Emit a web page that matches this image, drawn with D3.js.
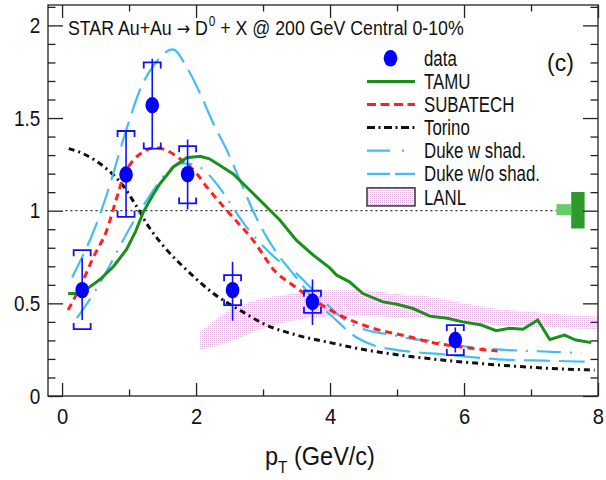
<!DOCTYPE html>
<html>
<head>
<meta charset="utf-8">
<script src="https://cdn.jsdelivr.net/npm/d3@7"></script>
<style>
  body { margin: 0; background: #fff; }
  svg { display: block; }
  text { font-family: "Liberation Sans", Arial, Helvetica, sans-serif; fill: #111; }
</style>
</head>
<body>
<svg id="chart" width="606" height="480"></svg>
<script>
// ---- STAR D0 R_AA, Au+Au 200 GeV, 0-10% ----
const dataPt  = [0.30, 0.955, 1.346, 1.874, 2.545, 3.738, 5.87];
const dataRaa = [0.571, 1.195, 1.569, 1.197, 0.571, 0.508, 0.302];
const statLo  = [0.41, 0.97, 1.34, 1.006, 0.406, 0.383, 0.235];
const statHi  = [0.744, 1.43, 1.82, 1.384, 0.724, 0.629, 0.37];
const sysLo   = [0.361, 0.967, 1.335, 1.039, 0.49, 0.449, 0.221];
const sysHi   = [0.787, 1.43, 1.80, 1.348, 0.652, 0.568, 0.383];

// ---- model curves ----
const tamuPt  = [0.09, 0.24, 0.4, 0.57, 0.77, 0.96, 1.1, 1.21, 1.34, 1.46, 1.66, 1.86, 2.06, 2.2, 2.55, 2.85, 3.0, 3.25, 3.5, 3.75, 4.0, 4.1, 4.29, 4.49, 4.79, 5.0, 5.24, 5.49, 5.75, 5.98, 6.26, 6.48, 6.68, 6.88, 7.1, 7.28, 7.5, 7.67, 7.9];
const tamuRaa = [0.553, 0.553, 0.585, 0.63, 0.70, 0.79, 0.89, 0.99, 1.075, 1.145, 1.236, 1.286, 1.294, 1.28, 1.20, 1.094, 1.04, 0.95, 0.84, 0.76, 0.69, 0.652, 0.616, 0.553, 0.508, 0.495, 0.472, 0.431, 0.42, 0.40, 0.383, 0.352, 0.365, 0.36, 0.41, 0.305, 0.329, 0.302, 0.288];

const subatechPt  = [0.09, 0.27, 0.47, 0.667, 0.8, 0.914, 1.063, 1.21, 1.387, 1.56, 1.76, 2.01, 2.16, 2.5, 2.85, 3.2, 3.4, 3.65, 3.95, 4.24, 4.6, 5.2, 5.5, 5.8, 6.1, 6.5];
const subatechRaa = [0.464, 0.589, 0.751, 0.895, 1.05, 1.182, 1.272, 1.317, 1.34, 1.326, 1.28, 1.2, 1.128, 0.985, 0.841, 0.665, 0.61, 0.545, 0.475, 0.42, 0.37, 0.318, 0.29, 0.272, 0.258, 0.243];

const torinoPt  = [0.1, 0.3, 0.5, 0.7, 0.9, 1.1, 1.3, 1.56, 1.86, 2.26, 2.65, 3.05, 3.5, 4.05, 4.54, 5.04, 5.79, 6.53, 7.28, 7.95];
const torinoRaa = [1.335, 1.31, 1.27, 1.215, 1.14, 1.03, 0.91, 0.79, 0.68, 0.553, 0.464, 0.383, 0.329, 0.284, 0.248, 0.221, 0.19, 0.167, 0.149, 0.14];

const dukeShadPt  = [0.22, 0.5, 0.75, 1.0, 1.2, 1.4, 1.6, 1.8, 2.0, 2.2, 2.4, 2.6, 2.8, 3.0, 3.2, 3.47, 3.74, 4.0, 4.24, 4.54, 4.94, 5.2, 5.5, 6.0, 6.3, 6.65, 7.0, 7.4, 7.75];
const dukeShadRaa = [0.42, 0.57, 0.73, 0.90, 1.02, 1.13, 1.22, 1.255, 1.245, 1.19, 1.10, 0.99, 0.89, 0.81, 0.74, 0.67, 0.575, 0.48, 0.405, 0.356, 0.329, 0.31, 0.298, 0.268, 0.257, 0.248, 0.243, 0.237, 0.232];

const dukeNoShadPt  = [0.15, 0.3, 0.45, 0.67, 0.97, 1.16, 1.4, 1.65, 1.86, 2.06, 2.26, 2.46, 2.66, 2.85, 3.05, 3.25, 3.45, 3.74, 4.12, 4.3, 4.64, 5.0, 5.3, 5.7, 6.0, 6.33, 6.6, 7.0, 7.4, 7.8];
const dukeNoShadRaa = [0.64, 0.75, 0.87, 1.09, 1.45, 1.65, 1.80, 1.87, 1.775, 1.632, 1.47, 1.326, 1.16, 1.0, 0.86, 0.75, 0.66, 0.53, 0.40, 0.34, 0.275, 0.248, 0.236, 0.224, 0.213, 0.203, 0.196, 0.192, 0.189, 0.185];

const lanlPt = [2.06, 2.5, 3.0, 3.5, 4.0, 4.5, 5.0, 5.5, 6.0, 6.5, 7.0, 7.5, 8.0];
const lanlHi = [0.347, 0.464, 0.527, 0.555, 0.57, 0.57, 0.55, 0.535, 0.5, 0.47, 0.455, 0.44, 0.427];
const lanlLo = [0.248, 0.293, 0.365, 0.41, 0.43, 0.43, 0.425, 0.419, 0.40, 0.383, 0.375, 0.365, 0.36];

// normalisation uncertainties at R_AA = 1
const normBoxes = [
  { x0: 7.38, x1: 7.60, lo: 0.976, hi: 1.035, color: "#66cc66" },
  { x0: 7.60, x1: 7.80, lo: 0.904, hi: 1.101, color: "#2e9a2e" }
];

const xTicksMajor = [0, 2, 4, 6, 8];
const xTicksMinor = [1, 3, 5, 7];
const yTicksMajor = [0, 0.5, 1, 1.5, 2];
const yTicksMinor = d3.range(0, 2.11, 0.1).map(v => +v.toFixed(1)).filter(v => !yTicksMajor.includes(v));

const legendItems = [
  { label: "data", kind: "marker" },
  { label: "TAMU", kind: "line", style: "tamu", dash: null },
  { label: "SUBATECH", kind: "line", style: "subatech", dash: "9,4.5" },
  { label: "Torino", kind: "line", style: "torino", dash: "8,3.5,2,3.5" },
  { label: "Duke w shad.", kind: "line", style: "dukeShad", dash: "23,12,2,12" },
  { label: "Duke w/o shad.", kind: "line", style: "dukeNoShad", dash: "23,5" },
  { label: "LANL", kind: "box" }
];

// ---- layout ----
const svg = d3.select("#chart");
const x = d3.scaleLinear().domain([-0.21, 8]).range([48, 598]);
const y = d3.scaleLinear().domain([0, 2.11]).range([396, 5]);
const [X0, X1] = x.range();
const [Y0, Y1] = y.range();

const styles = {
  tamu:       { stroke: "#1a8f1a", width: 3,   dash: null },
  subatech:   { stroke: "#ff2020", width: 3,   dash: "7,5" },
  torino:     { stroke: "#111111", width: 3,   dash: "6,4,2,4" },
  dukeShad:   { stroke: "#45bdf0", width: 2.2, dash: "24,9,2,9" },
  dukeNoShad: { stroke: "#45bdf0", width: 2.2, dash: "26,9" }
};

const defs = svg.append("defs");
const pat = defs.append("pattern").attr("id", "lanlDots")
  .attr("width", 2).attr("height", 2).attr("patternUnits", "userSpaceOnUse");
pat.append("rect").attr("width", 2).attr("height", 2).attr("fill", "#fcf1fb");
pat.append("rect").attr("width", 1).attr("height", 1).attr("fill", "#e4b6e2");
defs.append("clipPath").attr("id", "plotClip")
  .append("rect").attr("x", X0).attr("y", Y1).attr("width", X1 - X0).attr("height", Y0 - Y1);

const plot = svg.append("g").attr("clip-path", "url(#plotClip)");

// LANL band
const band = d3.area()
  .x((d, i) => x(lanlPt[i]))
  .y0((d, i) => y(lanlLo[i]))
  .y1((d, i) => y(lanlHi[i]))
  .curve(d3.curveMonotoneX);
plot.append("path").datum(lanlPt).attr("d", band).attr("fill", "url(#lanlDots)");

// reference line at unity
plot.append("line")
  .attr("x1", x(0.05)).attr("x2", x(7.38))
  .attr("y1", y(1)).attr("y2", y(1))
  .attr("stroke", "#333").attr("stroke-width", 1.2).attr("stroke-dasharray", "2,3");

// model curves
function drawCurve(pts, vals, st, curve) {
  const line = d3.line().x((d, i) => x(pts[i])).y((d, i) => y(vals[i])).curve(curve);
  plot.append("path").datum(pts).attr("d", line)
    .attr("fill", "none").attr("stroke", st.stroke).attr("stroke-width", st.width)
    .attr("stroke-dasharray", st.dash);
}
drawCurve(torinoPt, torinoRaa, styles.torino, d3.curveMonotoneX);
drawCurve(dukeNoShadPt, dukeNoShadRaa, styles.dukeNoShad, d3.curveMonotoneX);
drawCurve(dukeShadPt, dukeShadRaa, styles.dukeShad, d3.curveMonotoneX);
drawCurve(subatechPt, subatechRaa, styles.subatech, d3.curveMonotoneX);
drawCurve(tamuPt, tamuRaa, styles.tamu, d3.curveLinear);

// normalisation boxes
plot.selectAll(".norm").data(normBoxes).join("rect")
  .attr("x", d => x(d.x0)).attr("width", d => x(d.x1) - x(d.x0))
  .attr("y", d => y(d.hi)).attr("height", d => y(d.lo) - y(d.hi))
  .attr("fill", d => d.color);

// data: stat bars, sys brackets, markers
const blue = "#1010ff";
const pts = d3.range(dataPt.length);
const dg = svg.append("g");
dg.selectAll(".stat").data(pts).join("line")
  .attr("x1", i => x(dataPt[i])).attr("x2", i => x(dataPt[i]))
  .attr("y1", i => y(statLo[i])).attr("y2", i => y(statHi[i]))
  .attr("stroke", blue).attr("stroke-width", 1.6);
const bw = 8.5, arm = 6;
dg.selectAll(".sysHi").data(pts).join("path")
  .attr("d", i => {
    const cx = x(dataPt[i]), yy = y(sysHi[i]);
    return `M${cx - bw},${yy + arm}V${yy}H${cx + bw}V${yy + arm}`;
  })
  .attr("fill", "none").attr("stroke", blue).attr("stroke-width", 1.8);
dg.selectAll(".sysLo").data(pts).join("path")
  .attr("d", i => {
    const cx = x(dataPt[i]), yy = y(sysLo[i]);
    return `M${cx - bw},${yy - arm}V${yy}H${cx + bw}V${yy - arm}`;
  })
  .attr("fill", "none").attr("stroke", blue).attr("stroke-width", 1.8);
dg.selectAll(".pt").data(pts).join("ellipse")
  .attr("cx", i => x(dataPt[i])).attr("cy", i => y(dataRaa[i]))
  .attr("rx", 6.8).attr("ry", 8.3).attr("fill", "#0000ff");

// ---- frame and axes ----
const ax = svg.append("g").attr("stroke", "#222").attr("stroke-width", 1.3);
ax.append("rect").attr("x", X0).attr("y", Y1).attr("width", X1 - X0).attr("height", Y0 - Y1)
  .attr("fill", "none");

function styleAxis(g) {
  g.selectAll("path.domain").remove();
  g.selectAll("line").attr("stroke", "#222").attr("stroke-width", 1.3);
}
const fmt = d => String(d);

// bottom
svg.append("g").attr("transform", `translate(0,${Y0})`)
  .call(d3.axisBottom(x).tickValues(xTicksMajor).tickSize(-13).tickPadding(12).tickFormat(fmt))
  .call(styleAxis)
  .call(g => g.selectAll("text").attr("font-size", 22).attr("fill", "#111")
    .attr("font-family", "Liberation Sans, Arial, sans-serif").attr("transform", "scale(0.92,1)"));
svg.append("g").attr("transform", `translate(0,${Y0})`)
  .call(d3.axisBottom(x).tickValues(xTicksMinor).tickSize(-6.5).tickFormat(""))
  .call(styleAxis);
// top
svg.append("g").attr("transform", `translate(0,${Y1})`)
  .call(d3.axisTop(x).tickValues(xTicksMajor).tickSize(-13).tickFormat(""))
  .call(styleAxis);
svg.append("g").attr("transform", `translate(0,${Y1})`)
  .call(d3.axisTop(x).tickValues(xTicksMinor).tickSize(-6.5).tickFormat(""))
  .call(styleAxis);
// left
svg.append("g").attr("transform", `translate(${X0},0)`)
  .call(d3.axisLeft(y).tickValues(yTicksMajor).tickSize(-15).tickPadding(9).tickFormat(fmt))
  .call(styleAxis)
  .call(g => g.selectAll("text").attr("font-size", 22).attr("fill", "#111")
    .attr("font-family", "Liberation Sans, Arial, sans-serif").attr("transform", "scale(0.86,1)"));
svg.append("g").attr("transform", `translate(${X0},0)`)
  .call(d3.axisLeft(y).tickValues(yTicksMinor).tickSize(-7.5).tickFormat(""))
  .call(styleAxis);
// right
svg.append("g").attr("transform", `translate(${X1},0)`)
  .call(d3.axisRight(y).tickValues(yTicksMajor).tickSize(-15).tickFormat(""))
  .call(styleAxis);
svg.append("g").attr("transform", `translate(${X1},0)`)
  .call(d3.axisRight(y).tickValues(yTicksMinor).tickSize(-7.5).tickFormat(""))
  .call(styleAxis);

// ---- text ----
function label(px, py, size, sx, anchor) {
  return svg.append("text")
    .attr("transform", `translate(${px},${py}) scale(${sx},1)`)
    .attr("font-size", size).attr("text-anchor", anchor || "start");
}
// squeeze a text horizontally so that it spans the given width
function fitWidth(sel, px, py, width) {
  const w = sel.node().getComputedTextLength();
  sel.attr("transform", `translate(${px},${py}) scale(${width / w},1)`);
}

// title
const title = svg.append("text").attr("font-size", 21);
title.append("tspan").text("STAR Au+Au ");
title.append("tspan").attr("font-family", "DejaVu Sans").attr("font-size", 19).text("\u2192");
title.append("tspan").text(" D");
title.append("tspan").attr("dx", 1).attr("dy", -9).attr("font-size", 14).text("0");
title.append("tspan").attr("dy", 9).text(" + X @ 200 GeV Central 0-10%");
fitWidth(title, 68, 35, 395);

label(547, 71, 23, 1, "start").text("(c)");

// x-axis title
const xt = svg.append("text").attr("font-size", 26);
xt.append("tspan").text("p");
xt.append("tspan").attr("dy", 8).attr("font-size", 17).text("T");
xt.append("tspan").attr("dy", -8).text(" (GeV/c)");
fitWidth(xt, 265, 465, 110);

// ---- legend ----
const lg = svg.append("g");
const lx0 = 367, lx1 = 415, ltx = 424, ly0 = 58.3, lstep = 23.1;
legendItems.forEach((it, i) => {
  const cy = ly0 + i * lstep;
  if (it.kind === "marker") {
    lg.append("ellipse").attr("cx", (lx0 + lx1) / 2 - 0.5).attr("cy", cy)
      .attr("rx", 6.8).attr("ry", 8.3).attr("fill", "#0000ff");
  } else if (it.kind === "line") {
    const st = styles[it.style];
    lg.append("line").attr("x1", lx0).attr("x2", lx1).attr("y1", cy).attr("y2", cy)
      .attr("stroke", st.stroke).attr("stroke-width", st.width)
      .attr("stroke-dasharray", it.dash);
  } else {
    lg.append("rect").attr("x", lx0).attr("y", cy - 9).attr("width", lx1 - lx0).attr("height", 18)
      .attr("fill", "url(#lanlDots)").attr("stroke", "#333").attr("stroke-width", 1.5);
  }
  label(ltx, cy + 7.6, 22, 0.765, "start").text(it.label);
});
</script>
</body>
</html>
